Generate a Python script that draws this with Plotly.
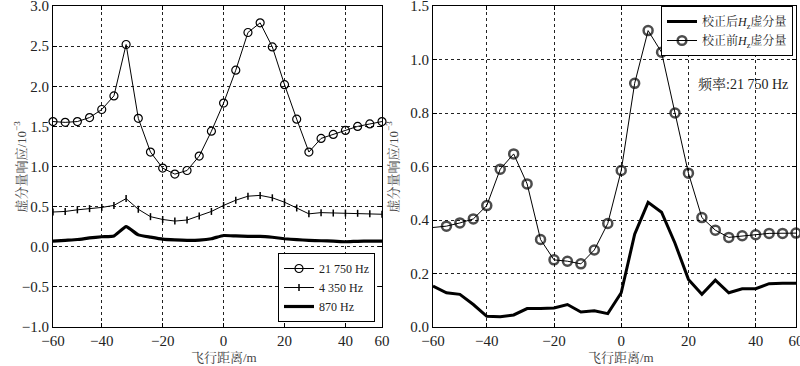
import plotly.graph_objects as go

# ---------------- data ----------------
dist = [-56, -52, -48, -44, -40, -36, -32, -28, -24, -20, -16, -12, -8, -4,
        0, 4, 8, 12, 16, 20, 24, 28, 32, 36, 40, 44, 48, 52]

f21750 = [1.56, 1.55, 1.56, 1.61, 1.71, 1.88, 2.52, 1.60, 1.18, 0.98, 0.905, 0.95, 1.13, 1.44,
          1.79, 2.20, 2.67, 2.79, 2.49, 2.02, 1.59, 1.18, 1.35, 1.40, 1.45, 1.50, 1.53, 1.56]
f4350 = [0.433, 0.44, 0.46, 0.475, 0.49, 0.515, 0.60, 0.467, 0.375, 0.34, 0.32, 0.333, 0.383, 0.44,
         0.515, 0.58, 0.63, 0.64, 0.61, 0.555, 0.483, 0.41, 0.425, 0.42, 0.42, 0.417, 0.41, 0.405]
f870 = [0.07, 0.08, 0.09, 0.11, 0.125, 0.135, 0.25, 0.148, 0.12, 0.095, 0.085, 0.08, 0.083, 0.10,
        0.14, 0.135, 0.13, 0.13, 0.118, 0.10, 0.088, 0.08, 0.075, 0.07, 0.062, 0.068, 0.07, 0.07]

before = [0.372, 0.377, 0.389, 0.404, 0.454, 0.59, 0.647, 0.535, 0.327, 0.251, 0.246, 0.236, 0.288, 0.387,
          0.585, 0.911, 1.108, 1.027, 0.80, 0.575, 0.409, 0.362, 0.335, 0.341, 0.345, 0.35, 0.35, 0.351]
after = [0.153, 0.128, 0.122, 0.084, 0.04, 0.038, 0.045, 0.069, 0.069, 0.071, 0.084, 0.056, 0.061, 0.05,
         0.128, 0.347, 0.466, 0.429, 0.313, 0.178, 0.122, 0.175, 0.128, 0.143, 0.143, 0.162, 0.164, 0.164]

x_tickvals = [-56, -40, -20, 0, 20, 40, 52]
x_ticktext = ["\u221260", "\u221240", "\u221220", "0", "20", "40", "60"]
yl_tickvals = [-1.0, -0.5, 0.0, 0.5, 1.0, 1.5, 2.0, 2.5, 3.0]
yl_ticktext = ["\u22121.0", "\u22120.5", "0.0", "0.5", "1.0", "1.5", "2.0", "2.5", "3.0"]
yr_tickvals = [0.0, 0.2, 0.4, 0.6, 0.8, 1.0, 1.2]
yr_ticktext = ["0.0", "0.2", "0.4", "0.6", "0.8", "1.0", "1.5"]

FONT = "Liberation Serif, 'Noto Serif CJK SC', 'Noto Sans CJK SC', serif"
W, H = 800, 366
T, B = 6, 39
PH = H - T - B

fig = go.Figure()

# ---------------- left panel ----------------
fig.add_trace(go.Scatter(x=dist, y=f21750, mode="lines+markers", name="21 750 Hz",
                         line=dict(color="black", width=1),
                         marker=dict(symbol="circle-open", size=8, color="black", line=dict(width=1.2)),
                         xaxis="x", yaxis="y", legend="legend", cliponaxis=False))
fig.add_trace(go.Scatter(x=dist, y=f4350, mode="lines+markers", name="4 350 Hz",
                         line=dict(color="black", width=1),
                         marker=dict(symbol="line-ns-open", size=5, color="black", line=dict(width=1.5)),
                         xaxis="x", yaxis="y", legend="legend", cliponaxis=False))
fig.add_trace(go.Scatter(x=dist, y=f870, mode="lines", name="870 Hz",
                         line=dict(color="black", width=3.2, shape="spline", smoothing=0.4),
                         xaxis="x", yaxis="y", legend="legend"))

# ---------------- right panel ----------------
sizes = [0] + [9] * (len(dist) - 1)
fig.add_trace(go.Scatter(x=dist, y=after, mode="lines",
                         name="校正后<i>H</i><sub>z</sub>虚分量",
                         line=dict(color="black", width=3),
                         xaxis="x2", yaxis="y2", legend="legend2"))
fig.add_trace(go.Scatter(x=dist, y=before, mode="lines+markers",
                         name="校正前<i>H</i><sub>z</sub>虚分量",
                         line=dict(color="black", width=1),
                         marker=dict(symbol="circle-open", size=sizes, color="black", line=dict(width=2.5)),
                         xaxis="x2", yaxis="y2", legend="legend2", cliponaxis=False))

axis_common = dict(showline=True, linecolor="black", linewidth=1, mirror="ticks",
                   ticks="inside", ticklen=4, tickcolor="black", automargin=False,
                   ticklabeloverflow="allow",
                   showgrid=True, gridcolor="#222", gridwidth=1, griddash="dot",
                   zeroline=False, tickfont=dict(family=FONT, size=15, color="#222"))

fig.update_layout(
    width=W, height=H,
    margin=dict(l=0, r=0, t=T, b=B, autoexpand=False),
    paper_bgcolor="white", plot_bgcolor="white",
    font=dict(family=FONT, size=13, color="black"),
    xaxis=dict(domain=[53 / W, 382 / W], range=[-56, 52], tickvals=x_tickvals,
               ticktext=x_ticktext, anchor="y", **axis_common),
    yaxis=dict(domain=[0, 1], range=[-1.0, 3.0], tickvals=yl_tickvals, ticktext=yl_ticktext,
               anchor="x", **axis_common),
    xaxis2=dict(domain=[433 / W, 796 / W], range=[-56, 52], tickvals=x_tickvals,
                ticktext=x_ticktext, anchor="y2", **axis_common),
    yaxis2=dict(domain=[0, 1], range=[0, 1.2], tickvals=yr_tickvals, ticktext=yr_ticktext,
                anchor="x2", **axis_common),
    legend=dict(x=375 / W, y=(H - B - 322) / PH, xref="paper", yref="paper",
                xanchor="right", yanchor="bottom",
                bgcolor="white", bordercolor="black", borderwidth=1,
                font=dict(family=FONT, size=12, color="#222"), tracegroupgap=0, itemwidth=30),
    legend2=dict(x=793 / W, y=1.0, xanchor="right", yanchor="top",
                 bgcolor="white", bordercolor="black", borderwidth=1,
                 font=dict(family=FONT, size=12, color="#222"), tracegroupgap=0, itemwidth=30),
    showlegend=True,
)

for xpos in (10 / W, 392 / W):
    fig.add_annotation(text="虚分量响应/10<sup>\u22123</sup>", x=xpos, y=0.5,
                       xref="paper", yref="paper", textangle=-90, showarrow=False,
                       font=dict(family=FONT, size=13, color="#444"))

for xr in ("x", "x2"):
    fig.add_annotation(text="飞行距离/m", x=0, y=-31 / PH, xref=xr, yref="paper", yanchor="middle",
                       showarrow=False, font=dict(family=FONT, size=13, color="#444"))

fig.add_annotation(text="频率:21 750 Hz", x=790 / W, y=1 - (75 - T) / PH, xref="paper",
                   yref="paper", xanchor="right", showarrow=False,
                   font=dict(family=FONT, size=14, color="#222"))

fig.write_html("out.html", config={"displayModeBar": False},
               post_script="document.body.style.margin='0';document.body.style.overflow='hidden';")
